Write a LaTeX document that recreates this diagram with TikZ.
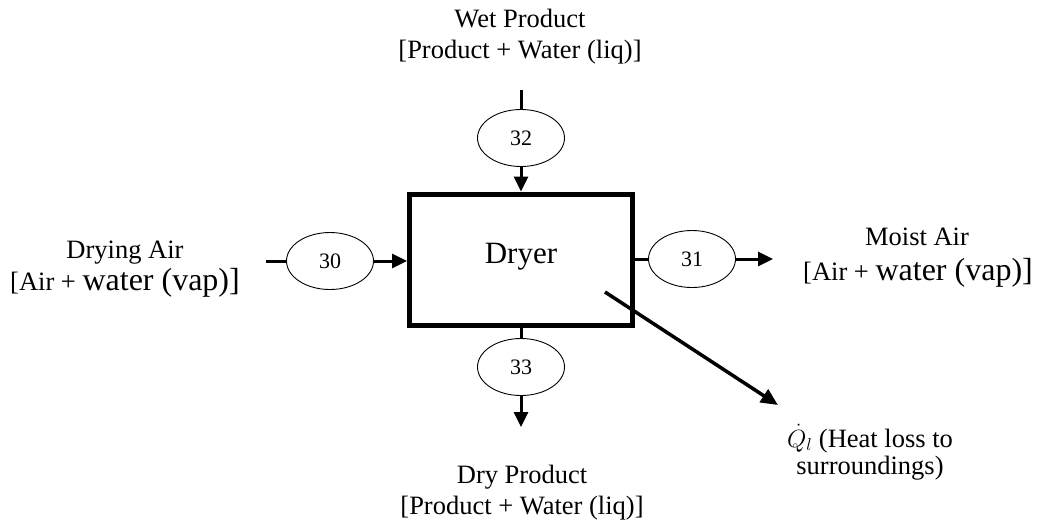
\documentclass[tikz,border=0pt]{standalone}
\usepackage{fontspec}
\setmainfont{Liberation Serif}
\usetikzlibrary{arrows.meta,shapes.geometric}

\tikzset{
  label/.style={anchor=base, inner sep=0pt, font=\fontsize{26.5}{31}\selectfont},
  port/.style={draw, ellipse, line width=0.9pt, inner sep=0pt,
               minimum width=87pt, minimum height=57pt,
               font=\fontsize{22}{26}\selectfont},
  unit/.style={draw, line width=5pt, inner sep=0pt,
               minimum width=222.5pt, minimum height=131.5pt},
  stream/.style={line width=3pt},
  flow/.style={line width=3pt, -{Triangle[length=15pt,width=14pt]}},
  heat/.style={line width=3.5pt, -{Triangle[length=17pt,width=15pt]}}
}

\begin{document}
\begin{tikzpicture}[x=1pt,y=-1pt]
\useasboundingbox (0,0) rectangle (1038,520);

% process unit
\node[unit] (dryer) at (520.75,259.75) {};
\node[anchor=base, inner sep=0pt, font=\fontsize{31}{37}\selectfont] (dryertxt) at (521,263) {Dryer};

% stream numbers
\node[port] (s32) at (521,138) {32};
\node[port] (s30) at (330,261) {30};
\node[port] (s31) at (692,259) {31};
\node[port] (s33) at (521,367) {33};

% free ends of the streams
\coordinate (in32) at (521,90);
\coordinate (in30) at (266,261);
\coordinate (out31) at (773,259);
\coordinate (out33) at (521,427);
\coordinate (qfrom) at (605,292);
\coordinate (qto) at (778,405);

% connectors
\draw[stream] (in32) -- (s32.north);
\draw[flow] (s32.south) -- (dryer.north -| s32.south);
\draw[stream] (in30) -- (s30.west);
\draw[flow] (s30.east) -- (dryer.west |- s30.east);
\draw[stream] (dryer.east |- s31.west) -- (s31.west);
\draw[flow] (s31.east) -- (out31);
\draw[stream] (dryer.south -| s33.north) -- (s33.north);
\draw[flow] (s33.south) -- (out33);
\draw[heat] (qfrom) -- (qto);

% stream descriptions
\node[label] (wet1) at (520,27) {Wet Product};
\node[label] (wet2) at (520,58) {[Product + Water (liq)]};

\node[label] (dry1) at (125,258) {Drying Air};
\node[label] (dry2) at (125,290) {[Air + {\fontsize{32}{38}\selectfont water (vap)]}};

\node[label] (moist1) at (917,245) {Moist Air};
\node[label] (moist2) at (918,280) {[Air + {\fontsize{32}{38}\selectfont water (vap)]}};

\node[label] (prod1) at (522,483) {Dry Product};
\node[label] (prod2) at (522,514) {[Product + Water (liq)]};

\node[label] (loss1) at (870,447) {$\dot{Q}_l$ (Heat loss to};
\node[label] (loss2) at (870,474) {surroundings)};
\end{tikzpicture}
\end{document}
